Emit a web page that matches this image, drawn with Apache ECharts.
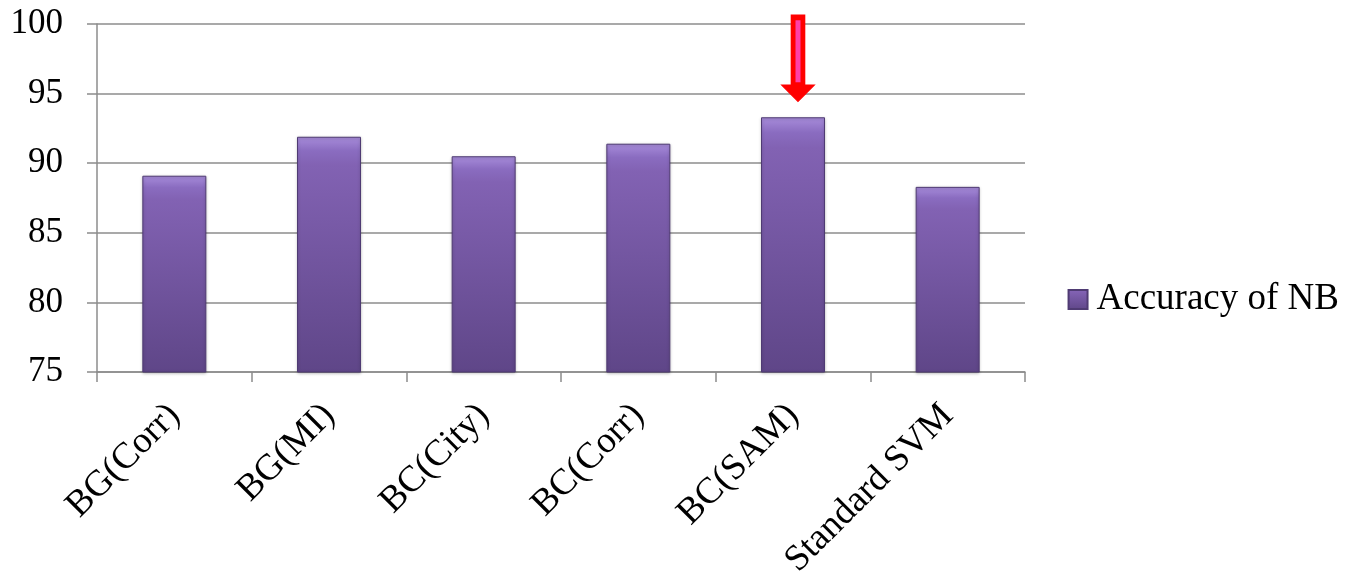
<!DOCTYPE html>
<html>
<head>
<meta charset="utf-8">
<script src="https://cdn.jsdelivr.net/npm/echarts@6/dist/echarts.min.js"></script>
<style>
  html, body { margin: 0; padding: 0; background: #ffffff; }
  #chart { width: 1345px; height: 572px; }
</style>
</head>
<body>
<div id="chart"></div>
<script>
// Accuracy of the Naive Bayes classifier per feature-selection method
const categories = ['BG(Corr)', 'BG(MI)', 'BC(City)', 'BC(Corr)', 'BC(SAM)', 'Standard SVM'];
const accuracyNB = [89.1, 91.9, 90.5, 91.4, 93.3, 88.3];
const seriesName = 'Accuracy of NB';
const highlighted = 'BC(SAM)';

const FONT = '"Liberation Serif", "Times New Roman", serif';
const AXIS_GRAY = '#8c8c8c';

// Down-pointing arrow (shaft + head), drawn as a markPoint symbol
const arrowPath = 'path://M9,0 L23,0 L23,70 L32,70 L16,86 L0,70 L9,70 Z';
const arrowCore = 'path://M0,0 L4,0 L4,60 L0,60 Z';

const barFill = new echarts.graphic.LinearGradient(0, 0, 0, 1, [
  { offset: 0, color: '#a88ddb' },
  { offset: 0.06, color: '#8a6cc0' },
  { offset: 0.12, color: '#8262b3' },
  { offset: 1, color: '#5f4688' }
]);

const chart = echarts.init(document.getElementById('chart'), null, { renderer: 'canvas' });

chart.setOption({
  animation: false,
  backgroundColor: '#ffffff',
  grid: { left: 97, right: 320, top: 24, bottom: 200, containLabel: false, outerBoundsMode: 'none' },
  legend: {
    data: [seriesName],
    right: 1,
    top: 276,
    itemWidth: 19,
    itemHeight: 19,
    itemGap: 8,
    icon: 'rect',
    textStyle: { fontFamily: FONT, fontSize: 37, color: '#000000', padding: [0, 0, 0, 4] }
  },
  xAxis: {
    type: 'category',
    data: categories,
    axisLine: { lineStyle: { color: AXIS_GRAY, width: 1.5 } },
    axisTick: { show: true, length: 10, alignWithLabel: false, lineStyle: { color: AXIS_GRAY, width: 1.5 } },
    axisLabel: {
      rotate: 45,
      margin: 38,
      interval: 0,
      fontFamily: FONT,
      fontSize: 37,
      color: '#000000'
    }
  },
  yAxis: {
    type: 'value',
    min: 75,
    max: 100,
    interval: 5,
    axisLine: { show: true, lineStyle: { color: AXIS_GRAY, width: 1.5 } },
    axisTick: { show: true, length: 10, lineStyle: { color: AXIS_GRAY, width: 1.5 } },
    splitLine: { show: true, lineStyle: { color: AXIS_GRAY, width: 1.5 } },
    axisLabel: {
      margin: 34,
      align: 'right',
      fontFamily: FONT,
      fontSize: 35,
      color: '#000000'
    }
  },
  series: [{
    name: seriesName,
    type: 'bar',
    data: accuracyNB,
    barWidth: 64,
    itemStyle: {
      color: barFill,
      borderColor: '#4f3b73',
      borderWidth: 1,
      shadowColor: 'rgba(0,0,0,0.25)',
      shadowBlur: 3,
      shadowOffsetY: 1
    },
    markPoint: {
      silent: true,
      label: { show: false },
      data: [
        {
          coord: [highlighted, accuracyNB[categories.indexOf(highlighted)]],
          symbol: arrowPath,
          symbolSize: [32, 86],
          symbolKeepAspect: false,
          symbolOffset: [5, -59],
          itemStyle: { color: '#ff0000', borderColor: '#ff0000', borderWidth: 1 }
        },
        {
          coord: [highlighted, accuracyNB[categories.indexOf(highlighted)]],
          symbol: arrowCore,
          symbolSize: [5, 62],
          symbolKeepAspect: false,
          symbolOffset: [5, -66],
          itemStyle: { color: '#ff3fa8' }
        }
      ]
    }
  }]
});
</script>
</body>
</html>
